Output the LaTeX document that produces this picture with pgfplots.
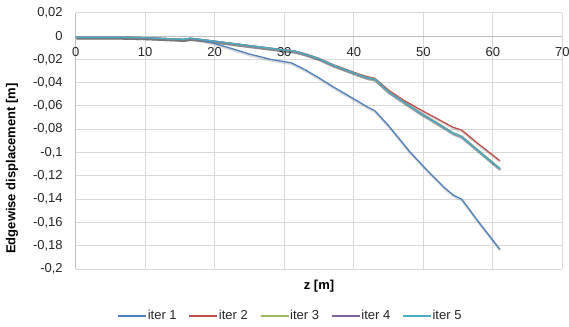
\documentclass[border=0pt]{standalone}
\usepackage{fontspec}
\setmainfont{Liberation Sans}
\usepackage{pgfplots}
\pgfplotsset{compat=1.18}
\usepackage{pgfplotstable}

\definecolor{cIone}{HTML}{4F81BD}
\definecolor{cItwo}{HTML}{C0504D}
\definecolor{cIthree}{HTML}{9BBB59}
\definecolor{cIfour}{HTML}{8064A2}
\definecolor{cIfive}{HTML}{4BACC6}

\pgfplotstableread{
z d
0 -0.001
2 -0.001
4 -0.001
6 -0.001
8 -0.0012
10 -0.0015
12 -0.002
14 -0.0025
15.5 -0.003
16.5 -0.002
17.5 -0.003
18.5 -0.0042
20 -0.0065
22 -0.0100
25 -0.0155
28 -0.0200
30 -0.0220
31 -0.0230
33 -0.0290
35 -0.0360
37 -0.0435
40 -0.0540
42 -0.0610
43 -0.0640
45 -0.0770
48 -0.0990
50.5 -0.1150
53 -0.1300
54.3 -0.1365
55.5 -0.1400
58 -0.1600
61 -0.1830
}\iterone

\pgfplotstableread{
z d
0 -0.001
2 -0.001
4 -0.001
6 -0.001
8 -0.0012
10 -0.0015
12 -0.002
14 -0.0025
15.5 -0.003
16.5 -0.002
18 -0.003
20 -0.0045
22 -0.006
25 -0.0083
28 -0.0105
30 -0.0120
31.5 -0.0130
33 -0.0152
35 -0.0192
37 -0.0245
39.5 -0.0300
41 -0.0332
42 -0.0350
43 -0.0362
45 -0.0465
47 -0.0545
49.5 -0.0630
52 -0.0710
54.3 -0.0784
55.5 -0.0807
58 -0.0930
61 -0.1070
}\itertwo

\pgfplotstableread{
z d
0 -0.001
2 -0.001
4 -0.001
6 -0.001
8 -0.0012
10 -0.0015
12 -0.002
14 -0.0025
15.5 -0.003
16.5 -0.002
18 -0.003
20 -0.0045
22 -0.006
25 -0.0083
28 -0.0105
30 -0.0120
31.5 -0.0130
33 -0.0155
35 -0.0195
37 -0.0250
39.5 -0.0305
41 -0.0340
42 -0.0360
43 -0.0370
45 -0.0480
47 -0.0560
49.5 -0.0660
52 -0.0750
54.3 -0.0835
55.5 -0.0864
58 -0.0990
61 -0.1140
}\iterfive

\pgfplotstableread{
z d
0 -0.001
2 -0.001
4 -0.001
6 -0.001
8 -0.0012
10 -0.0015
12 -0.002
14 -0.0025
15.5 -0.003
16.5 -0.002
18 -0.003
20 -0.0045
22 -0.006
25 -0.0083
28 -0.0105
30 -0.0120
31.5 -0.0130
33 -0.0154
35 -0.0194
37 -0.0248
39.5 -0.0303
41 -0.0337
42 -0.0357
43 -0.0367
45 -0.0476
47 -0.0556
49.5 -0.0655
52 -0.0745
54.3 -0.0830
55.5 -0.0859
58 -0.0985
61 -0.1135
}\iterthree

\pgfplotstableread{
z d
0 -0.001
2 -0.001
4 -0.001
6 -0.001
8 -0.0012
10 -0.0015
12 -0.002
14 -0.0025
15.5 -0.003
16.5 -0.002
18 -0.003
20 -0.0045
22 -0.006
25 -0.0083
28 -0.0105
30 -0.0120
31.5 -0.0130
33 -0.0155
35 -0.0195
37 -0.0250
39.5 -0.0305
41 -0.0339
42 -0.0359
43 -0.0369
45 -0.0479
47 -0.0559
49.5 -0.0659
52 -0.0749
54.3 -0.0834
55.5 -0.0863
58 -0.0989
61 -0.1139
}\iterfour

\begin{document}
\begin{tikzpicture}
\useasboundingbox (-75.7pt,-57pt) rectangle (493.3pt,269pt);
\begin{axis}[
  scale only axis,
  width=486.6pt, height=256.3pt,
  xmin=0, xmax=70, ymin=-0.2, ymax=0.02,
  axis x line=middle, axis y line=left,
  hide obscured x ticks=false, hide obscured y ticks=false,
  axis line style={draw=black!25, line width=0.8pt, -},
  xtick={0,10,...,70},
  ytick={-0.2,-0.18,-0.16,-0.14,-0.12,-0.1,-0.08,-0.06,-0.04,-0.02,0,0.02},
  yticklabels={{-0,2},{-0,18},{-0,16},{-0,14},{-0,12},{-0,1},{-0,08},{-0,06},{-0,04},{-0,02},{0},{0,02}},
  major tick length=0pt,
  grid=major,
  major grid style={draw=black!15, line width=0.8pt},
  /pgf/number format/assume math mode=true,
  tick label style={font=\fontsize{13}{15}\selectfont, text=black!85},
  xticklabel style={yshift=-8pt},
  yticklabel style={xshift=-9.5pt},
  xlabel={z [m]},
  xlabel style={at={(axis description cs:0.5,0)}, anchor=center, yshift=-17pt, font=\fontsize{13}{15}\selectfont\bfseries},
  ylabel={Edgewise displacement [m]},
  ylabel style={at={(axis description cs:0,0.392)}, anchor=center, yshift=63.7pt, font=\fontsize{13}{15}\selectfont\bfseries},
  legend columns=5,
  legend style={draw=none, fill=none, at={(axis description cs:0.4404,-0.1834)}, anchor=center,
    font=\fontsize{13}{15}\selectfont, text=black!85,
    /tikz/every even column/.append style={column sep=11pt},
    nodes={inner xsep=1pt}},
  legend image code/.code={\draw[#1] (0pt,0pt) -- (28pt,0pt);},
  shadow/.style={forget plot, draw=black, opacity=0.14, line width=2.6pt, yshift=-1.2pt, xshift=0.6pt},
]
\addplot[shadow] table {\iterone};
\addplot[shadow] table {\itertwo};
\addplot[shadow] table {\iterthree};
\addplot[shadow] table {\iterfour};
\addplot[shadow] table {\iterfive};
\addplot[cIone, line width=1.3pt] table {\iterone};
\addlegendentry{iter 1}
\addplot[cItwo, line width=1.3pt] table {\itertwo};
\addlegendentry{iter 2}
\addplot[cIthree, line width=1.3pt] table {\iterthree};
\addlegendentry{iter 3}
\addplot[cIfour, line width=1.3pt] table {\iterfour};
\addlegendentry{iter 4}
\addplot[cIfive, line width=1.3pt] table {\iterfive};
\addlegendentry{iter 5}
\end{axis}
\end{tikzpicture}
\end{document}
